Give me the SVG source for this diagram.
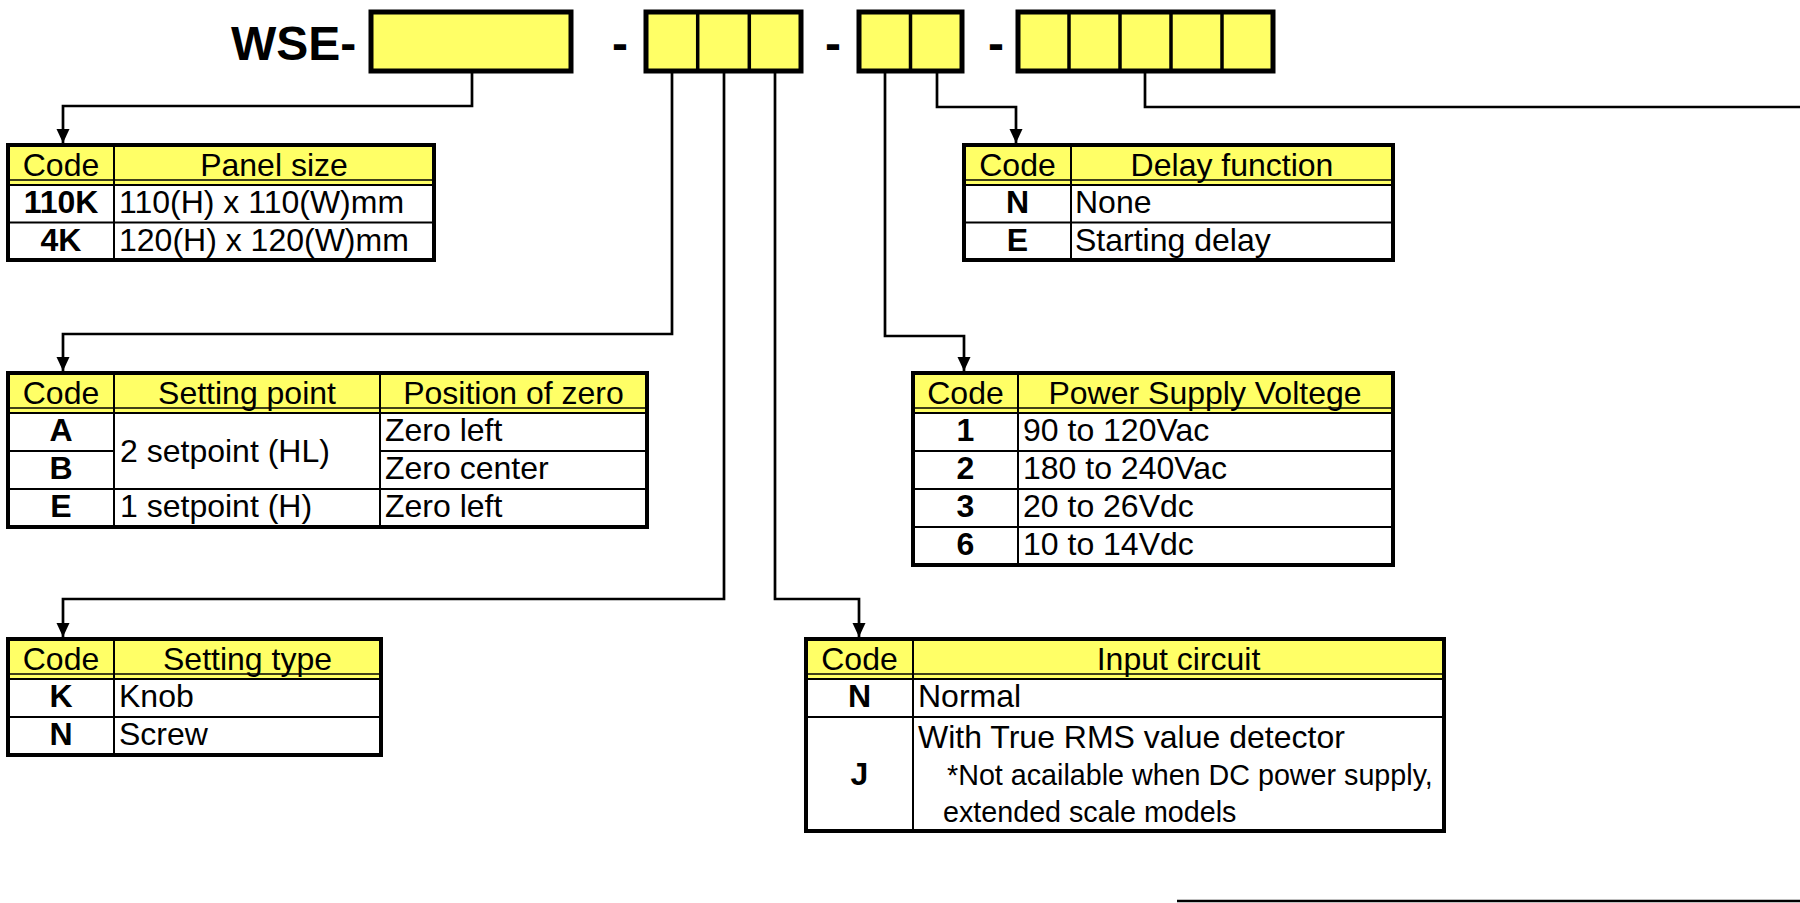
<svg xmlns="http://www.w3.org/2000/svg" width="1800" height="903" viewBox="0 0 1800 903">
<style>
.bg{fill:#fff}
.box{fill:#FFFF66;stroke:#000;stroke-width:5}
.dv{stroke:#000;stroke-width:3.5}
.hdr{fill:#FFFF66}
.tbl{fill:none;stroke:#000;stroke-width:4}
.ln{stroke:#000;stroke-width:2}
.thin{stroke:#000;stroke-width:1.5}
.conn{fill:none;stroke:#000;stroke-width:2.7}
text{font-family:"Liberation Sans",Arial,sans-serif;font-size:32px;fill:#000}
.c{text-anchor:middle}
.b{font-weight:bold}
.s{font-size:28.7px}
.big{font-size:48px;font-weight:bold}
</style>
<defs>
<marker id="arr" markerUnits="userSpaceOnUse" markerWidth="14" markerHeight="15" viewBox="0 -7 14 14" refX="14" refY="0" orient="auto">
<path d="M0,-6.5 L14,0 L0,6.5 z" fill="#000"/>
</marker>
</defs>
<rect class="bg" x="0" y="0" width="1800" height="903"/>

<g id="code-header">
<text class="big" x="231" y="60">WSE-</text>
<rect class="box" x="371" y="12" width="200" height="59"/>
<text class="big c" x="620" y="60">-</text>
<rect class="box" x="646" y="12" width="155" height="59"/>
<line class="dv" x1="697.7" y1="12" x2="697.7" y2="71"/>
<line class="dv" x1="749.3" y1="12" x2="749.3" y2="71"/>
<text class="big c" x="833" y="60">-</text>
<rect class="box" x="859" y="12" width="103" height="59"/>
<line class="dv" x1="910.5" y1="12" x2="910.5" y2="71"/>
<text class="big c" x="996" y="60">-</text>
<rect class="box" x="1018" y="12" width="255" height="59"/>
<line class="dv" x1="1069" y1="12" x2="1069" y2="71"/>
<line class="dv" x1="1120" y1="12" x2="1120" y2="71"/>
<line class="dv" x1="1171" y1="12" x2="1171" y2="71"/>
<line class="dv" x1="1222" y1="12" x2="1222" y2="71"/>
</g>

<g id="connectors">
<path class="conn" d="M472,71 V106 H63 V143" marker-end="url(#arr)"/>
<path class="conn" d="M672,71 V334 H63 V371" marker-end="url(#arr)"/>
<path class="conn" d="M724,71 V599 H63 V637" marker-end="url(#arr)"/>
<path class="conn" d="M775,71 V599 H859 V637" marker-end="url(#arr)"/>
<path class="conn" d="M885,71 V336 H964 V371" marker-end="url(#arr)"/>
<path class="conn" d="M937,71 V107 H1016 V143" marker-end="url(#arr)"/>
<path class="conn" d="M1145,71 V107 H1800"/>
<path class="conn" d="M1177,901 H1800"/>
</g>

<g id="panel-size">
<rect class="hdr" x="8" y="145" width="426" height="40"/>
<line class="thin" x1="8" y1="180" x2="434" y2="180"/>
<line class="ln" x1="8" y1="185" x2="434" y2="185"/>
<line class="ln" x1="8" y1="222.5" x2="434" y2="222.5"/>
<line class="ln" x1="114" y1="145" x2="114" y2="260"/>
<rect class="tbl" x="8" y="145" width="426" height="115"/>
<text class="c" x="61" y="176">Code</text>
<text class="c" x="274" y="176">Panel size</text>
<text class="c b" x="61" y="213">110K</text>
<text x="119" y="213">110(H) x 110(W)mm</text>
<text class="c b" x="61" y="251">4K</text>
<text x="119" y="251">120(H) x 120(W)mm</text>
</g>

<g id="delay-function">
<rect class="hdr" x="964" y="145" width="429" height="40"/>
<line class="thin" x1="964" y1="180" x2="1393" y2="180"/>
<line class="ln" x1="964" y1="185" x2="1393" y2="185"/>
<line class="ln" x1="964" y1="222.5" x2="1393" y2="222.5"/>
<line class="ln" x1="1071" y1="145" x2="1071" y2="260"/>
<rect class="tbl" x="964" y="145" width="429" height="115"/>
<text class="c" x="1017.5" y="176">Code</text>
<text class="c" x="1232" y="176">Delay function</text>
<text class="c b" x="1017.5" y="213">N</text>
<text x="1075" y="213">None</text>
<text class="c b" x="1017.5" y="251">E</text>
<text x="1075" y="251">Starting delay</text>
</g>

<g id="setting-point">
<rect class="hdr" x="8" y="373" width="639" height="40"/>
<line class="thin" x1="8" y1="408" x2="647" y2="408"/>
<line class="ln" x1="8" y1="413" x2="647" y2="413"/>
<line class="ln" x1="8" y1="451" x2="114" y2="451"/>
<line class="ln" x1="380" y1="451" x2="647" y2="451"/>
<line class="ln" x1="8" y1="489" x2="647" y2="489"/>
<line class="ln" x1="114" y1="373" x2="114" y2="527"/>
<line class="ln" x1="380" y1="373" x2="380" y2="527"/>
<rect class="tbl" x="8" y="373" width="639" height="154"/>
<text class="c" x="61" y="404">Code</text>
<text class="c" x="247" y="404">Setting point</text>
<text class="c" x="513.5" y="404">Position of zero</text>
<text class="c b" x="61" y="441">A</text>
<text class="c b" x="61" y="479">B</text>
<text class="c b" x="61" y="517">E</text>
<text x="120" y="462">2 setpoint (HL)</text>
<text x="120" y="517">1 setpoint (H)</text>
<text x="385" y="441">Zero left</text>
<text x="385" y="479">Zero center</text>
<text x="385" y="517">Zero left</text>
</g>

<g id="power-supply">
<rect class="hdr" x="913" y="373" width="480" height="40"/>
<line class="thin" x1="913" y1="408" x2="1393" y2="408"/>
<line class="ln" x1="913" y1="413" x2="1393" y2="413"/>
<line class="ln" x1="913" y1="451" x2="1393" y2="451"/>
<line class="ln" x1="913" y1="489" x2="1393" y2="489"/>
<line class="ln" x1="913" y1="527" x2="1393" y2="527"/>
<line class="ln" x1="1018" y1="373" x2="1018" y2="565"/>
<rect class="tbl" x="913" y="373" width="480" height="192"/>
<text class="c" x="965.5" y="404">Code</text>
<text class="c" x="1205" y="404">Power Supply Voltege</text>
<text class="c b" x="965.5" y="441">1</text>
<text x="1023" y="441">90 to 120Vac</text>
<text class="c b" x="965.5" y="479">2</text>
<text x="1023" y="479">180 to 240Vac</text>
<text class="c b" x="965.5" y="517">3</text>
<text x="1023" y="517">20 to 26Vdc</text>
<text class="c b" x="965.5" y="555">6</text>
<text x="1023" y="555">10 to 14Vdc</text>
</g>

<g id="setting-type">
<rect class="hdr" x="8" y="639" width="373" height="40"/>
<line class="thin" x1="8" y1="674" x2="381" y2="674"/>
<line class="ln" x1="8" y1="679" x2="381" y2="679"/>
<line class="ln" x1="8" y1="717" x2="381" y2="717"/>
<line class="ln" x1="114" y1="639" x2="114" y2="755"/>
<rect class="tbl" x="8" y="639" width="373" height="116"/>
<text class="c" x="61" y="670">Code</text>
<text class="c" x="247.5" y="670">Setting type</text>
<text class="c b" x="61" y="707">K</text>
<text x="119" y="707">Knob</text>
<text class="c b" x="61" y="745">N</text>
<text x="119" y="745">Screw</text>
</g>

<g id="input-circuit">
<rect class="hdr" x="806" y="639" width="638" height="40"/>
<line class="thin" x1="806" y1="674" x2="1444" y2="674"/>
<line class="ln" x1="806" y1="679" x2="1444" y2="679"/>
<line class="ln" x1="806" y1="717" x2="1444" y2="717"/>
<line class="ln" x1="913" y1="639" x2="913" y2="831"/>
<rect class="tbl" x="806" y="639" width="638" height="192"/>
<text class="c" x="859.5" y="670">Code</text>
<text class="c" x="1178.5" y="670">Input circuit</text>
<text class="c b" x="859.5" y="707">N</text>
<text x="918" y="707">Normal</text>
<text class="c b" x="859.5" y="785">J</text>
<text x="918" y="748">With True RMS value detector</text>
<text class="s" x="947" y="785">*Not acailable when DC power supply,</text>
<text class="s" x="943" y="822">extended scale models</text>
</g>
</svg>
